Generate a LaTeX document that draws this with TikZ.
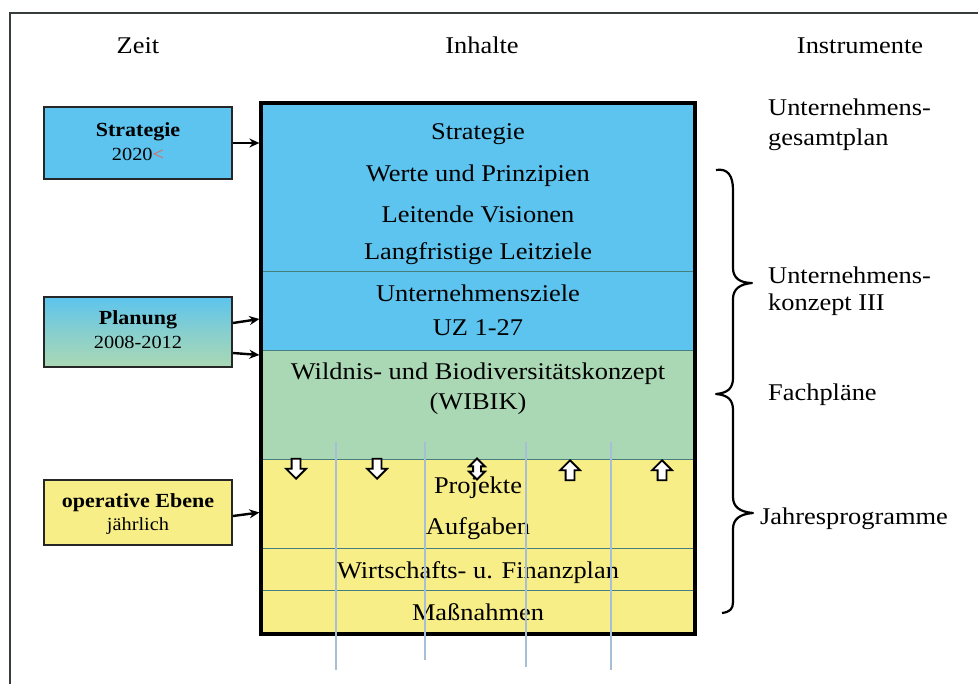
\documentclass[tikz,border=0pt]{standalone}
\usepackage{fontspec}
\setmainfont{Liberation Serif}[FakeStretch=1.1]
\usetikzlibrary{arrows.meta,shapes.arrows}
\definecolor{zielblau}{RGB}{92,196,238}
\definecolor{wibikgruen}{RGB}{170,216,180}
\definecolor{jahrgelb}{RGB}{248,238,136}
\definecolor{rasterlinie}{RGB}{167,191,214}
\definecolor{trennlinie}{RGB}{70,125,125}
\definecolor{rahmengrau}{RGB}{55,60,60}
\definecolor{markrot}{RGB}{235,95,75}

\begin{document}
\begin{tikzpicture}[x=1pt,y=-1pt,
  zeile/.style={anchor=base, inner sep=0pt, font=\fontsize{24}{28}\selectfont},
  instr/.style={anchor=base west, inner sep=0pt, font=\fontsize{24}{28}\selectfont},
  ebene/.style={draw=black!85, line width=2pt, minimum width=188pt, inner sep=0pt},
  ebtitel/.style={anchor=base, inner sep=0pt, font=\fontsize{20}{24}\selectfont\bfseries},
  ebzeit/.style={anchor=base, inner sep=0pt, font=\fontsize{18.5}{22}\selectfont},
  feld/.style={minimum width=434pt, inner sep=0pt, draw=trennlinie, line width=0.8pt},
  zu/.style={-{Stealth[length=10pt,width=9pt]}, line width=2.4pt},
  pfeil/.style={single arrow, draw=black, fill=white, line width=1.8pt, minimum height=20pt, single arrow head extend=5.5pt, inner sep=3.5pt}]
\useasboundingbox (0,0) rectangle (978,684);
\draw[rahmengrau, line width=2pt] (9.5,684) -- (9.5,13) -- (978,13);

% Kopfzeile
\node[zeile] (hZeit) at (138,54) {Zeit};
\node[zeile] (hInhalte) at (482,54) {Inhalte};
\node[zeile] (hInstr) at (860,54) {Instrumente};

% Inhalte: Felder
\node[feld, fill=zielblau, minimum height=168pt] (fStrat) at (478,187) {};
\node[feld, fill=zielblau, minimum height=79pt] (fZiele) at (478,310.5) {};
\node[feld, fill=wibikgruen, minimum height=109pt] (fWibik) at (478,404.5) {};
\node[feld, fill=jahrgelb, minimum height=89pt] (fProj) at (478,503.5) {};
\node[feld, fill=jahrgelb, minimum height=42pt] (fWiFi) at (478,569) {};
\node[feld, fill=jahrgelb, minimum height=44pt] (fMass) at (478,612) {};
\node[draw, line width=3.2pt, minimum width=434pt, minimum height=531pt, inner sep=0pt] (rahmen) at (478,368.5) {};

\node[zeile] (tStrat) at (478,140) {Strategie};
\node[zeile] (tWerte) at (478,182) {Werte und Prinzipien};
\node[zeile] (tVision) at (478,223) {Leitende Visionen};
\node[zeile] (tLeit) at (478,260) {Langfristige Leitziele};
\node[zeile] (tUZ) at (478,302) {Unternehmensziele};
\node[zeile] (tUZnr) at (478,336) {UZ 1-27};
\node[zeile] (tWibik) at (478,380) {Wildnis- und Biodiversitätskonzept};
\node[zeile] (tWibikk) at (478,410) {(WIBIK)};
\node[zeile] (tProj) at (478,494) {Projekte};
\node[zeile] (tAufg) at (478,535) {Aufgaben};
\node[zeile] (tWiFi) at (478,578) {Wirtschafts- u. Finanzplan};
\node[zeile] (tMass) at (478,620) {Maßnahmen};

% Rasterlinien
\foreach \x/\u in {336/670, 425/660, 526/667, 611/670}
  \draw[rasterlinie, line width=1.3pt] (\x,442) -- (\x,\u);

% Blockpfeile
\node[pfeil, shape border rotate=270, anchor=tip] (pAb1) at (296,480) {};
\node[pfeil, shape border rotate=270, anchor=tip] (pAb2) at (377,480) {};
\node[double arrow, draw=black, fill=white, line width=1.8pt, minimum height=21pt, double arrow head extend=4pt, inner sep=3pt, shape border rotate=90] (pBeide) at (477,469) {};
\node[pfeil, shape border rotate=90, anchor=tip] (pAuf1) at (570,459) {};
\node[pfeil, shape border rotate=90, anchor=tip] (pAuf2) at (662,459) {};

% Zeit: Ebenen
\node[ebene, fill=zielblau, minimum height=72pt] (zStrat) at (138,143) {};
\node[ebtitel] (zStratT) at (138,137) {Strategie};
\node[ebzeit] (zStratJ) at (138,161) {2020\textcolor{markrot}{<}};
\node[ebene, top color=zielblau, bottom color=wibikgruen, middle color=zielblau!45!wibikgruen, minimum height=70pt] (zPlan) at (138,332) {};
\node[ebtitel] (zPlanT) at (138,325) {Planung};
\node[ebzeit] (zPlanJ) at (138,349) {2008-2012};
\node[ebene, fill=jahrgelb, minimum height=65pt] (zOp) at (138,512.5) {};
\node[ebtitel] (zOpT) at (138,508) {operative Ebene};
\node[ebzeit] (zOpJ) at (138,530) {jährlich};

\draw[zu] (zStrat.east) -- (zStrat.east -| rahmen.west);
\draw[zu] ([yshift=9pt]zPlan.east) -- (rahmen.west |- 0,319);
\draw[zu] ([yshift=-21pt]zPlan.east) -- (rahmen.west |- 0,355);
\draw[zu] ([yshift=-3.5pt]zOp.east) -- (zOp.east -| rahmen.west);

% Instrumente
\node[instr] (iGesamt) at (768,116) {Unternehmens-};
\node[instr] (iGesamt2) at (768,146) {gesamtplan};
\node[instr] (iKonz) at (768,284) {Unternehmens-};
\node[instr] (iKonz2) at (768,311) {konzept III};
\node[instr] (iFach) at (768,401) {Fachpläne};
\node[instr] (iJahr) at (760,525) {Jahresprogramme};

% Klammer
\draw[line width=2.2pt, line join=round]
  (716,170) .. controls (728,168) and (733,176) .. (733,190) -- (733,268)
  .. controls (733,278) and (740,283) .. (752,283)
  .. controls (740,284) and (733,289) .. (733,299) -- (733,378)
  .. controls (733,388) and (728,393) .. (716,394)
  .. controls (728,395) and (733,400) .. (733,410) -- (733,497)
  .. controls (733,507) and (740,512) .. (753,513)
  .. controls (740,514) and (733,519) .. (733,529) -- (733,602)
  .. controls (733,609) and (730,612) .. (722,613);
\end{tikzpicture}
\end{document}
